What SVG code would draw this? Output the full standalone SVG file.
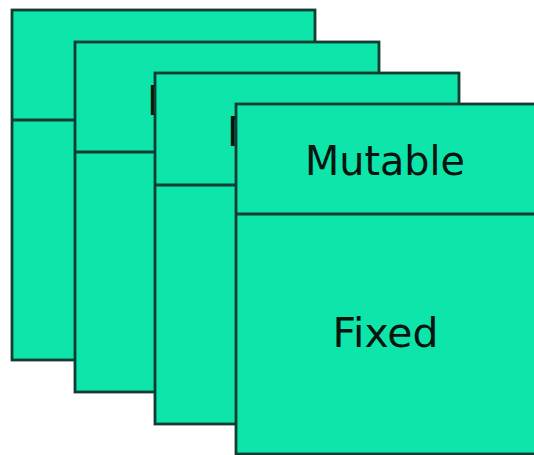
<svg xmlns="http://www.w3.org/2000/svg" width="534" height="455" viewBox="0 0 534 455">
<style>
.card{fill:#0de5aa;stroke:#133d30;stroke-width:2.8}
.div{stroke:#133d30;stroke-width:2.8}
.t{font-family:"DejaVu Sans","Verdana",sans-serif;font-size:41px;fill:#08140f;text-anchor:middle}
</style>
<rect width="534" height="455" fill="#ffffff"/>
<g id="card1">
<rect class="card" x="12" y="10" width="303" height="350"/>
<line class="div" x1="12" y1="120" x2="315" y2="120"/>
</g>
<g id="card2">
<rect class="card" x="75" y="42" width="304" height="350"/>
<line class="div" x1="75" y1="152" x2="379" y2="152"/>
<text class="t" x="227" y="115" textLength="160" lengthAdjust="spacingAndGlyphs">Mutable</text>
</g>
<g id="card3">
<rect class="card" x="155" y="73" width="304" height="351"/>
<line class="div" x1="155" y1="185" x2="459" y2="185"/>
<text class="t" x="307" y="146" textLength="160" lengthAdjust="spacingAndGlyphs">Mutable</text>
</g>
<g id="card4">
<rect class="card" x="236" y="104" width="304" height="350"/>
<line class="div" x1="236" y1="214" x2="540" y2="214"/>
<text class="t" x="385" y="175" textLength="160" lengthAdjust="spacingAndGlyphs">Mutable</text>
<text class="t" x="385.5" y="347" textLength="106" lengthAdjust="spacingAndGlyphs">Fixed</text>
</g>
<g id="connectors"/>
</svg>
